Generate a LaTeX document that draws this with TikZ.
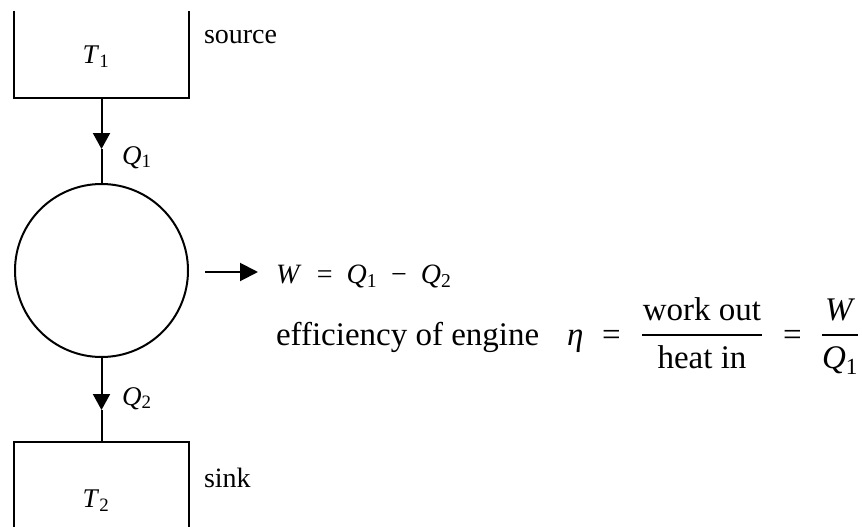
\documentclass[tikz,border=0pt]{standalone}
\usepackage{fontspec}
\setmainfont{Liberation Serif}
\usetikzlibrary{arrows.meta}
\newcommand{\lblfont}{\fontsize{27}{31}\selectfont}
\newcommand{\resfont}{\fontsize{28}{32}\selectfont}
\newcommand{\wfont}{\fontsize{28}{32}\selectfont}
\newcommand{\efffont}{\fontsize{33}{38}\selectfont}
\newcommand{\varsub}[2]{\textit{#1}\textsubscript{#2}}

\begin{document}
\begin{tikzpicture}[x=1pt,y=-1pt,line width=2pt,
  reservoir/.style={minimum width=173pt,minimum height=85pt,inner sep=0pt},
  flow/.style={-{Triangle[length=16pt,width=17pt]}},
  txt/.style={inner sep=0pt,anchor=base west}]
\useasboundingbox (0,0) rectangle (862,527);
\node[reservoir] (hot) at (101.5,54.5) {};
\draw (hot.north west) -- (hot.south west) -- (hot.south east) -- (hot.north east);
\node[reservoir,minimum height=84pt] (cold) at (101.5,485) {};
\draw (cold.south west) -- (cold.north west) -- (cold.north east) -- (cold.south east);
\node[circle,draw,minimum size=173pt,inner sep=0pt] (eng) at (101.5,270.5) {};
\node (t1) at (96,57) {\lblfont\varsub{T}{1}};
\node (t2) at (96,501) {\lblfont\varsub{T}{2}};
\node[txt] (src) at (203,44) {\resfont source};
\node[txt] (snk) at (203,487) {\resfont sink};
\coordinate (q1tip) at (101.5,149);
\coordinate (q2tip) at (101.5,410);
\coordinate (wstart) at (205,272);
\coordinate (wtip) at (258,272);
\draw[flow] (hot.south) -- (q1tip);
\draw (q1tip) -- (eng.north);
\draw[flow] (eng.south) -- (q2tip);
\draw (q2tip) -- (cold.north);
\draw[-{Triangle[length=18pt,width=18pt]}] (wstart) -- (wtip);
\node[txt] (q1) at (121,164) {\lblfont\varsub{Q}{1}};
\node[txt] (q2) at (121,405) {\lblfont\varsub{Q}{2}};
\node[txt] (work) at (275,283) {\wfont\textit{W}\hspace{.55em}=\hspace{.5em}\varsub{Q}{1}\hspace{.5em}−\hspace{.5em}\varsub{Q}{2}};
\node[txt] (eff) at (275,345) {\efffont efficiency of engine};
\node[txt] (eta) at (566,345) {\efffont\textit{η}};
\node[txt] (eqa) at (601,345) {\efffont =};
\node[txt,anchor=base] (num) at (702,320) {\efffont work out};
\node[txt,anchor=base] (den) at (702,368) {\efffont heat in};
\draw[line width=2.5pt] (642,335) -- (762,335);
\node[txt] (eqb) at (782,345) {\efffont =};
\node[txt,anchor=base] (wnum) at (840,320) {\efffont\textit{W}};
\node[txt,anchor=base] (qden) at (840,368) {\efffont\varsub{Q}{1}};
\draw[line width=2.5pt] (822,335) -- (858,335);
\end{tikzpicture}
\end{document}
